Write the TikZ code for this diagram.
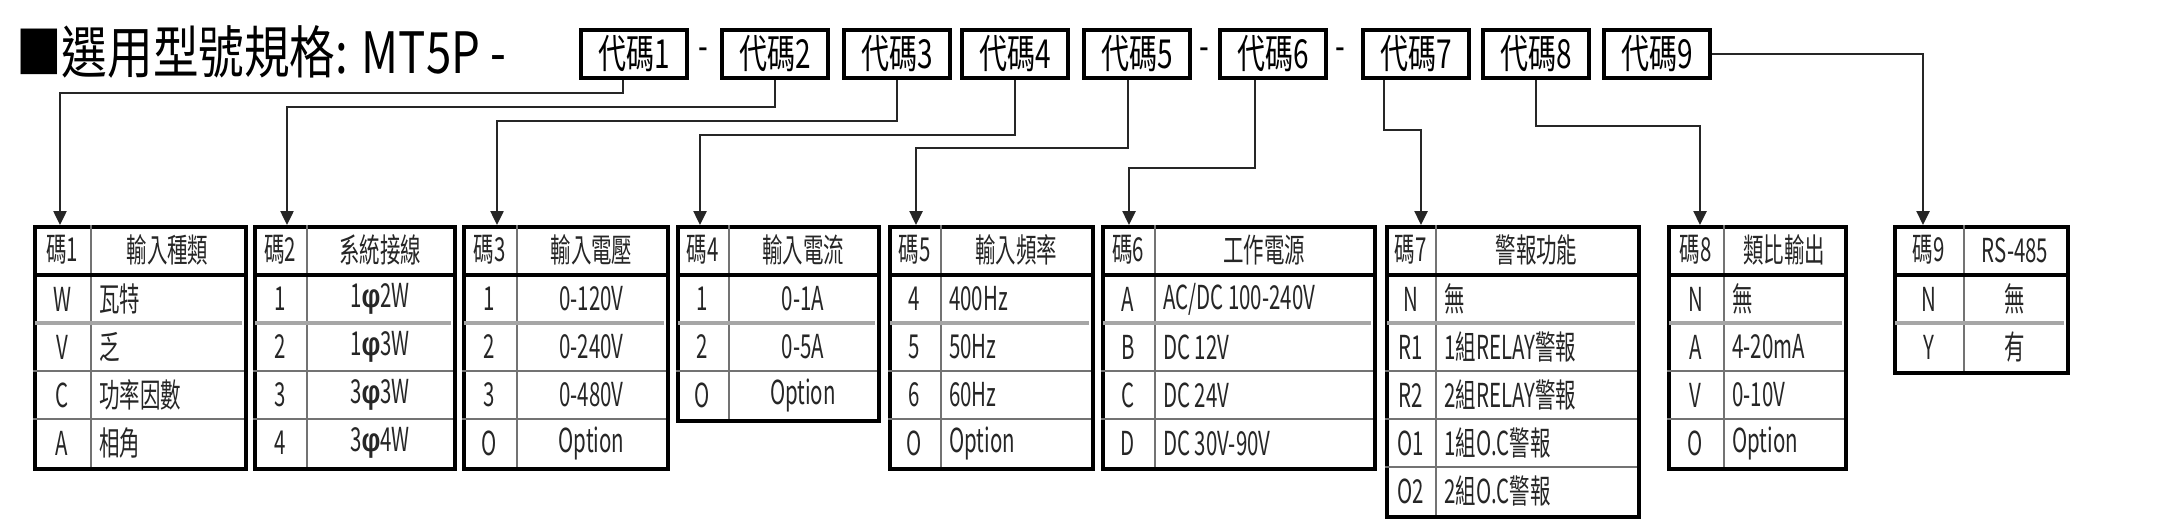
\documentclass[tikz,border=0pt]{standalone}
\usepackage{fontspec}
\setmainfont{Noto Sans CJK TC}[FakeStretch=0.62]
\newfontfamily\titlefont{Noto Sans CJK TC}[FakeStretch=0.8]
\newfontfamily\codefont{Noto Sans CJK TC}[FakeStretch=0.7]
\newfontfamily\phifont{Liberation Sans}[FakeStretch=0.8]
\usetikzlibrary{arrows.meta}
\newcommand\PH{{\phifont\bfseries φ}}
\tikzset{
  codebox/.style={draw=black, line width=3.5pt, fill=white, minimum width=106pt, minimum height=48pt, inner sep=0pt, font=\codefont\fontsize{40}{42}\selectfont},
  dashlabel/.style={inner sep=0pt, font=\codefont\fontsize{40}{42}\selectfont},
  tabbox/.style={draw=black, line width=3.5pt, inner sep=0pt, anchor=north west},
  conn/.style={draw=black!85, line width=2.5pt, -{Triangle[length=14pt,width=13pt]}},
  cell/.style={font=\fontsize{33}{35}\selectfont, inner sep=0pt, text=black!85},
  thinrule/.style={draw=black!55, line width=1.2pt},
  graysep/.style={draw=black!35, line width=4pt},
}
% #1 name, #2 x0, #3 xd, #4 x1, #5 header code, #6 header title, #7 rows, #8 align, #9 rows count
\newcommand\ctab[9]{%
  \pgfmathsetmacro\H{50+48*#9}%
  \pgfmathsetmacro\W{#4-#2}%
  \node[tabbox, minimum width=\W pt, minimum height=\H pt] (#1) at (#2,225) {};
  \draw[thinrule] (#3,225) -- (#3,225+\H);
  \node[cell] at ({(#2+#3)/2},250) {#5};
  \node[cell] at ({(#3+#4)/2},250) {#6};
  \foreach \a/\b [count=\i] in {#7} {
    \pgfmathsetmacro\yc{275+48*\i-24}
    \node[cell] at ({(#2+#3)/2},\yc) {\a};
    \ifx l#8
      \node[cell, anchor=west] at (#3+8,\yc) {\b};
    \else
      \node[cell] at ({(#3+#4)/2},\yc) {\b};
    \fi
    \ifnum\i<#9
      \ifnum\i=1
        \draw[graysep] (#2+1.75,275+48*\i) -- (#4-1.75,275+48*\i);
      \else
        \draw[thinrule] (#2,275+48*\i) -- (#4,275+48*\i);
      \fi
    \fi
  }
  \draw[line width=3.5pt] (#2,275) -- (#4,275);
}
\begin{document}
\begin{tikzpicture}[x=1pt,y=-1pt]
\useasboundingbox (0,0) rectangle (2177,532);
\node[anchor=west, inner sep=0pt, font=\titlefont\fontsize{57}{60}\selectfont] (title) at (16,52) {■選用型號規格: MT5P -};
\node[codebox] (c1) at (634,54) {代碼1};
\node[dashlabel] (d1) at (703,54) {-};
\node[codebox] (c2) at (775,54) {代碼2};
\node[codebox] (c3) at (897,54) {代碼3};
\node[codebox] (c4) at (1015,54) {代碼4};
\node[codebox] (c5) at (1137,54) {代碼5};
\node[dashlabel] (d2) at (1204,54) {-};
\node[codebox] (c6) at (1273,54) {代碼6};
\node[dashlabel] (d3) at (1340,54) {-};
\node[codebox] (c7) at (1416,54) {代碼7};
\node[codebox] (c8) at (1536,54) {代碼8};
\node[codebox] (c9) at (1657,54) {代碼9};

\ctab{t1}{33}{91}{244}{碼1}{輸入種類}{W/瓦特,V/乏,C/功率因數,A/相角}{l}{4}
\ctab{t2}{253}{307}{453}{碼2}{系統接線}{1/1\PH 2W,2/1\PH 3W,3/3\PH 3W,4/3\PH 4W}{c}{4}
\ctab{t3}{462}{517}{666}{碼3}{輸入電壓}{1/0-120V,2/0-240V,3/0-480V,O/Option}{c}{4}
\ctab{t4}{676}{729}{877}{碼4}{輸入電流}{1/0-1A,2/0-5A,O/Option}{c}{3}
\ctab{t5}{888}{941}{1091}{碼5}{輸入頻率}{4/400Hz,5/50Hz,6/60Hz,O/Option}{l}{4}
\ctab{t6}{1101}{1155}{1373}{碼6}{工作電源}{A/{AC/DC 100-240V},B/DC 12V,C/DC 24V,D/DC 30V-90V}{l}{4}
\ctab{t7}{1385}{1436}{1637}{碼7}{警報功能}{N/無,R1/1組RELAY警報,R2/2組RELAY警報,O1/1組O.C警報,O2/2組O.C警報}{l}{5}
\ctab{t8}{1667}{1724}{1844}{碼8}{類比輸出}{N/無,A/4-20mA,V/0-10V,O/Option}{l}{4}
\ctab{t9}{1893}{1964}{2066}{碼9}{RS-485}{N/無,Y/有}{c}{2}

\draw[conn] ([xshift=-11pt]c1.south) -- ([xshift=-11pt]c1.south |- 0,93) -| ([xshift=27pt]t1.north west);
\draw[conn] (c2.south) -- (c2.south |- 0,107) -| ([xshift=34pt]t2.north west);
\draw[conn] (c3.south) -- (c3.south |- 0,121) -| ([xshift=35pt]t3.north west);
\draw[conn] (c4.south) -- (c4.south |- 0,135) -| ([xshift=24pt]t4.north west);
\draw[conn] ([xshift=-9pt]c5.south) -- ([xshift=-9pt]c5.south |- 0,148) -| ([xshift=28pt]t5.north west);
\draw[conn] ([xshift=-18pt]c6.south) -- ([xshift=-18pt]c6.south |- 0,168) -| ([xshift=28pt]t6.north west);
\draw[conn] ([xshift=-32pt]c7.south) -- ([xshift=-32pt]c7.south |- 0,130) -| ([xshift=36pt]t7.north west);
\draw[conn] (c8.south) -- (c8.south |- 0,126) -| ([xshift=33pt]t8.north west);
\draw[conn] (c9.east) -| ([xshift=30pt]t9.north west);
\end{tikzpicture}
\end{document}
